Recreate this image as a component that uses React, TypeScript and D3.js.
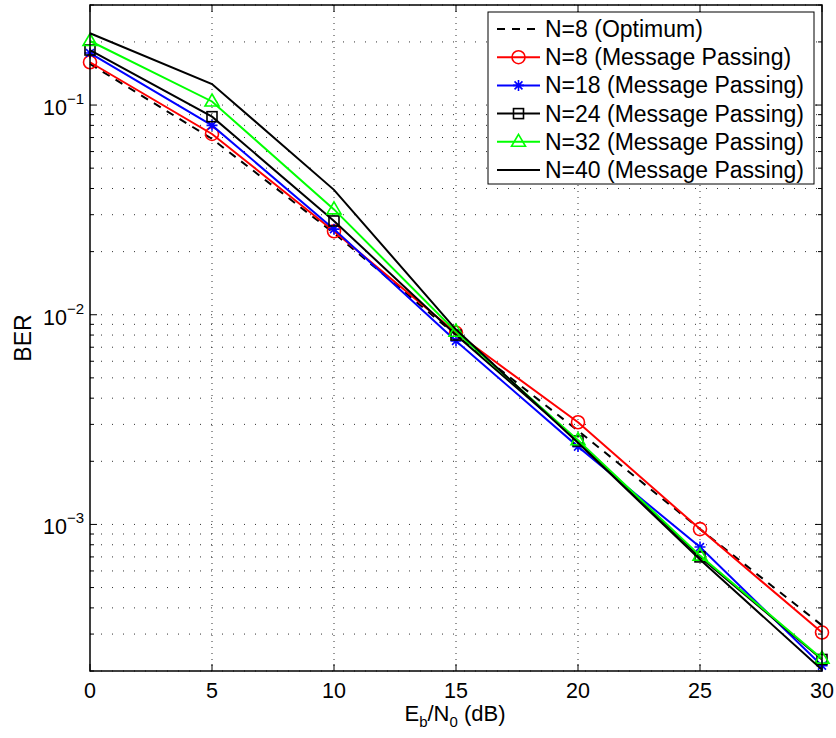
import React from "react";
import * as d3 from "d3";

const snr = [0, 5, 10, 15, 20, 25, 30];
const optimum8 = [0.157, 0.069, 0.0245, 0.008, 0.0028, 0.00095, 0.00033];
const mp8 = [0.16, 0.0728, 0.025, 0.0082, 0.00307, 0.00095, 0.000305];
const mp18 = [0.177, 0.08, 0.0256, 0.0075, 0.00235, 0.00078, 0.000212];
const mp24 = [0.183, 0.088, 0.028, 0.008, 0.0025, 0.0007, 0.000227];
const mp32 = [0.202, 0.104, 0.0318, 0.0083, 0.00252, 0.00071, 0.000229];
const mp40 = [0.22, 0.126, 0.0394, 0.0085, 0.00245, 0.00068, 0.000203];

const xTicks = [0, 5, 10, 15, 20, 25, 30];
const yMajor = [-1, -2, -3];
const legendLabels = [
  "N=8 (Optimum)",
  "N=8 (Message Passing)",
  "N=18 (Message Passing)",
  "N=24 (Message Passing)",
  "N=32 (Message Passing)",
  "N=40 (Message Passing)",
];

type Marker = "none" | "circle" | "star" | "square" | "triangle";
const seriesList: { data: number[]; color: string; dash?: string; marker: Marker }[] = [
  { data: optimum8, color: "#000", dash: "8,7", marker: "none" },
  { data: mp8, color: "#ff0000", marker: "circle" },
  { data: mp18, color: "#0000ff", marker: "star" },
  { data: mp24, color: "#000", marker: "square" },
  { data: mp32, color: "#00ff00", marker: "triangle" },
  { data: mp40, color: "#000", marker: "none" },
];

const W = 836, H = 738;
const L = 90, R = 822, T = 5, B = 671;
const FONT = "'Liberation Sans', Arial, Helvetica, sans-serif";

function MarkerShape({ type, x, y, color }: { type: Marker; x: number; y: number; color: string }) {
  const sw = 1.6;
  if (type === "circle")
    return <circle cx={x} cy={y} r={6.5} fill="none" stroke={color} strokeWidth={sw} />;
  if (type === "square")
    return <rect x={x - 5} y={y - 5} width={10} height={10} fill="none" stroke={color} strokeWidth={sw} />;
  if (type === "triangle")
    return (
      <path d={`M${x},${y - 7.5} L${x + 7},${y + 4.5} L${x - 7},${y + 4.5} Z`} fill="none" stroke={color} strokeWidth={sw} />
    );
  if (type === "star") {
    const s = 5.5, d = s * 0.72;
    return (
      <path
        d={`M${x - s},${y} L${x + s},${y} M${x},${y - s} L${x},${y + s} M${x - d},${y - d} L${x + d},${y + d} M${x - d},${y + d} L${x + d},${y - d}`}
        stroke={color}
        strokeWidth={sw}
        fill="none"
      />
    );
  }
  return null;
}

export default function App() {
  const x = d3.scaleLinear().domain([0, 30]).range([L, R]);
  const y = d3.scaleLog().domain([2e-4, 0.3]).range([B, T]);

  const minorVals: number[] = [];
  for (let e = -4; e <= -1; e++) {
    for (let m = 1; m <= 9; m++) {
      const v = m * Math.pow(10, e);
      if (v >= 2e-4 - 1e-12 && v <= 0.3 + 1e-12) minorVals.push(v);
    }
  }

  const line = d3
    .line<number>()
    .x((_, i) => x(snr[i]))
    .y((d) => y(d));

  const legX = 488, legY = 12, legW = 326, legH = 172, rowH = 28.2;

  return (
    <svg width={W} height={H} style={{ position: "absolute", left: 0, top: 0, background: "#fff" }} fontFamily={FONT}>
      <rect x={0} y={0} width={W} height={H} fill="#fff" />
      {/* grid */}
      <g stroke="#333" strokeWidth={1} fill="none">
        {xTicks.slice(1, -1).map((t) => (
          <line key={"gx" + t} x1={x(t)} x2={x(t)} y1={T} y2={B} strokeDasharray="1,5" />
        ))}
        {minorVals.map((v) => (
          <line key={"gy" + v} x1={L} x2={R} y1={y(v)} y2={y(v)} strokeDasharray="1,10" />
        ))}
      </g>
      {/* ticks */}
      <g stroke="#000" strokeWidth={1}>
        {xTicks.map((t) => (
          <g key={"tx" + t}>
            <line x1={x(t)} x2={x(t)} y1={B} y2={B - 7} />
            <line x1={x(t)} x2={x(t)} y1={T} y2={T + 7} />
          </g>
        ))}
        {minorVals.map((v) => {
          const major = Math.abs(Math.log10(v) - Math.round(Math.log10(v))) < 1e-9;
          const len = major ? 7 : 4;
          return (
            <g key={"ty" + v}>
              <line x1={L} x2={L + len} y1={y(v)} y2={y(v)} />
              <line x1={R} x2={R - len} y1={y(v)} y2={y(v)} />
            </g>
          );
        })}
      </g>
      {/* series */}
      <g>
        {seriesList.map((s, i) => (
          <g key={"s" + i}>
            <path d={line(s.data) || ""} fill="none" stroke={s.color} strokeWidth={2} strokeDasharray={s.dash} />
            {s.data.map((v, j) => (
              <MarkerShape key={j} type={s.marker} x={x(snr[j])} y={y(v)} color={s.color} />
            ))}
          </g>
        ))}
      </g>
      {/* frame */}
      <rect x={L} y={T} width={R - L} height={B - T} fill="none" stroke="#000" strokeWidth={1.5} />
      {/* x tick labels */}
      <g fontSize={21.5} textAnchor="middle" fill="#000">
        {xTicks.map((t) => (
          <text key={"lx" + t} x={x(t)} y={698}>
            {t}
          </text>
        ))}
      </g>
      {/* y tick labels */}
      <g fill="#000">
        {yMajor.map((e) => (
          <text key={"ly" + e} x={84} y={y(Math.pow(10, e)) + 10} textAnchor="end" fontSize={21.5}>
            10
            <tspan fontSize={15} dy={-11}>
              {"\u2212" + -e}
            </tspan>
          </text>
        ))}
      </g>
      {/* axis labels */}
      <text x={455} y={721} textAnchor="middle" fontSize={22} fill="#000">
        E<tspan fontSize={15} dy={6}>b</tspan>
        <tspan dy={-6}>/N</tspan>
        <tspan fontSize={15} dy={6}>0</tspan>
        <tspan dy={-6}> (dB)</tspan>
      </text>
      <text transform={`translate(31,338) rotate(-90)`} textAnchor="middle" fontSize={23} fill="#000">
        BER
      </text>
      {/* legend */}
      <g>
        <rect x={legX} y={legY} width={legW} height={legH} fill="#fff" stroke="#000" strokeWidth={1} />
        {seriesList.map((s, i) => {
          const cy = legY + 17 + i * rowH;
          return (
            <g key={"leg" + i}>
              <line x1={497} x2={540} y1={cy} y2={cy} stroke={s.color} strokeWidth={2} strokeDasharray={s.dash} />
              <MarkerShape type={s.marker} x={518.5} y={cy} color={s.color} />
              <text x={545} y={cy + 8} fontSize={23} fill="#000">
                {legendLabels[i]}
              </text>
            </g>
          );
        })}
      </g>
    </svg>
  );
}
